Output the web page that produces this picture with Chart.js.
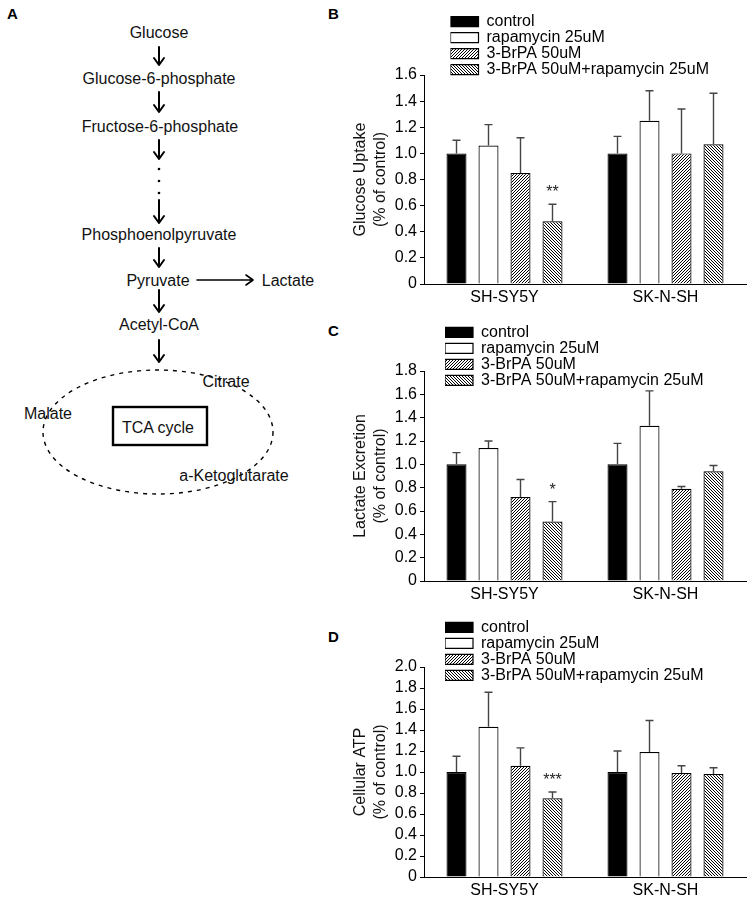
<!DOCTYPE html>
<html>
<head>
<meta charset="utf-8">
<script src="https://cdn.jsdelivr.net/npm/chart.js@4.4.1/dist/chart.umd.min.js"></script>
<style>
html,body{margin:0;padding:0;background:#fff;}
body{width:753px;height:906px;position:relative;overflow:hidden;font-family:"Liberation Sans",Arial,sans-serif;}
#diagram{position:absolute;left:0;top:0;}
.cv{position:absolute;left:340px;}
</style>
</head>
<body>
<svg id="diagram" width="753" height="906" xmlns="http://www.w3.org/2000/svg" font-family="Liberation Sans, Arial, sans-serif" font-size="16">
  <g font-weight="bold" font-size="15">
    <text x="7" y="19">A</text>
    <text x="328" y="19">B</text>
    <text x="328" y="336">C</text>
    <text x="328" y="642">D</text>
  </g>
  <g text-anchor="middle" fill="#111">
    <text x="159" y="38">Glucose</text>
    <text x="159" y="84">Glucose-6-phosphate</text>
    <text x="160" y="132">Fructose-6-phosphate</text>
    <text x="159" y="240">Phosphoenolpyruvate</text>
    <text x="158" y="286">Pyruvate</text>
    <text x="288" y="286">Lactate</text>
    <text x="159" y="330">Acetyl-CoA</text>
  </g>
  <g stroke="#000" stroke-width="2" fill="none" stroke-linecap="round" stroke-linejoin="round">
    <path d="M159,47 V65 M154,58 L159,65 L164,58"/>
    <path d="M159,92 V112 M154,105 L159,112 L164,105"/>
    <path d="M159,140 V159 M154,152 L159,159 L164,152"/>
    <path d="M159,200 V223 M154,216 L159,223 L164,216"/>
    <path d="M159,248 V267 M154,260 L159,267 L164,260"/>
    <path d="M159,290 V312 M154,305 L159,312 L164,305"/>
    <path d="M159,340 V362 M154,355 L159,362 L164,355"/>
    <path d="M197,280 H253 M246,275 L253,280 L246,285" stroke-width="1.6"/>
  </g>
  <g fill="#000">
    <circle cx="159" cy="169" r="1.3"/>
    <circle cx="159" cy="181" r="1.3"/>
    <circle cx="159" cy="193" r="1.3"/>
  </g>
  <ellipse cx="158" cy="432" rx="115" ry="62" fill="none" stroke="#000" stroke-width="1.4" stroke-dasharray="4 5"/>
  <rect x="113" y="407" width="94" height="38" fill="none" stroke="#000" stroke-width="2.4"/>
  <g text-anchor="middle" fill="#111">
    <text x="158" y="433">TCA cycle</text>
    <text x="226" y="387">Citrate</text>
    <text x="48" y="419">Malate</text>
    <text x="234" y="481">a-Ketoglutarate</text>
  </g>
</svg>
<canvas id="chartB" class="cv" width="413" height="305" style="top:0px;width:413px;height:305px"></canvas>
<canvas id="chartC" class="cv" width="413" height="298" style="top:305px;width:413px;height:298px"></canvas>
<canvas id="chartD" class="cv" width="413" height="303" style="top:603px;width:413px;height:303px"></canvas>
<script>
// ---------- data ----------
const categories = ['SH-SY5Y', 'SK-N-SH'];
const seriesNames = ['control', 'rapamycin 25uM', '3-BrPA 50uM', '3-BrPA 50uM+rapamycin 25uM'];

// B: glucose uptake
const glucoseControl = [1.00, 1.00];
const glucoseRapa = [1.06, 1.25];
const glucoseBrPA = [0.85, 1.00];
const glucoseCombo = [0.48, 1.07];
const glucoseControlSD = [0.10, 0.13];
const glucoseRapaSD = [0.16, 0.23];
const glucoseBrPASD = [0.27, 0.34];
const glucoseComboSD = [0.13, 0.39];
const glucoseComboSig = ['**', ''];
const glucoseTicks = ['0', '0.2', '0.4', '0.6', '0.8', '1.0', '1.2', '1.4', '1.6'];

// C: lactate excretion
const lactateControl = [1.00, 1.00];
const lactateRapa = [1.14, 1.33];
const lactateBrPA = [0.72, 0.79];
const lactateCombo = [0.51, 0.94];
const lactateControlSD = [0.10, 0.18];
const lactateRapaSD = [0.06, 0.30];
const lactateBrPASD = [0.15, 0.02];
const lactateComboSD = [0.17, 0.05];
const lactateComboSig = ['*', ''];
const lactateTicks = ['0', '0.2', '0.4', '0.6', '0.8', '1.0', '1.2', '1.4', '1.6', '1.8'];

// D: cellular ATP
const atpControl = [1.00, 1.00];
const atpRapa = [1.43, 1.19];
const atpBrPA = [1.06, 0.99];
const atpCombo = [0.75, 0.98];
const atpControlSD = [0.15, 0.20];
const atpRapaSD = [0.33, 0.30];
const atpBrPASD = [0.17, 0.07];
const atpComboSD = [0.06, 0.06];
const atpComboSig = ['***', ''];
const atpTicks = ['0', '0.2', '0.4', '0.6', '0.8', '1.0', '1.2', '1.4', '1.6', '1.8', '2.0'];

// ---------- styling ----------
const FONT = 'Liberation Sans, Arial, sans-serif';
Chart.defaults.font.family = FONT;
Chart.defaults.font.size = 16;
Chart.defaults.color = '#000';

function hatch(dir) {
  const n = 3;
  const c = document.createElement('canvas');
  c.width = c.height = n;
  const x = c.getContext('2d');
  x.fillStyle = '#fff';
  x.fillRect(0, 0, n, n);
  x.strokeStyle = '#000';
  x.lineWidth = 1;
  x.beginPath();
  if (dir > 0) {
    x.moveTo(0, n); x.lineTo(n, 0);
    x.moveTo(-1, 1); x.lineTo(1, -1);
    x.moveTo(n - 1, n + 1); x.lineTo(n + 1, n - 1);
  } else {
    x.moveTo(0, 0); x.lineTo(n, n);
    x.moveTo(-1, n - 1); x.lineTo(1, n + 1);
    x.moveTo(n - 1, -1); x.lineTo(n + 1, 1);
  }
  x.stroke();
  return x.createPattern(c, 'repeat');
}
const fills = ['#000', '#fff', hatch(1), hatch(-1)];

const errPlugin = {
  id: 'errbars',
  afterDatasetsDraw(chart) {
    const ctx = chart.ctx;
    const ys = chart.scales.y;
    ctx.save();
    chart.data.datasets.forEach((ds, i) => {
      const meta = chart.getDatasetMeta(i);
      meta.data.forEach((bar, j) => {
        const top = ys.getPixelForValue(ds.data[j] + ds.sd[j]);
        ctx.strokeStyle = '#444';
        ctx.lineWidth = 1.4;
        ctx.beginPath();
        ctx.moveTo(bar.x, bar.y);
        ctx.lineTo(bar.x, top);
        ctx.moveTo(bar.x - 4, top);
        ctx.lineTo(bar.x + 4, top);
        ctx.stroke();
        const s = ds.sig && ds.sig[j];
        if (s) {
          ctx.fillStyle = '#222';
          ctx.font = '16px ' + FONT;
          ctx.textAlign = 'center';
          ctx.textBaseline = 'alphabetic';
          ctx.fillText(s, bar.x, top - 7);
        }
      });
    });
    ctx.restore();
  }
};

const legendPlace = {
  id: 'legendPlace',
  afterLayout(chart, args, opts) {
    const lg = chart.legend;
    if (!lg) return;
    lg.left = opts.x; lg.top = opts.y;
    lg.right = opts.x + 300; lg.bottom = opts.y + 80;
  }
};

function makeChart(id, means, sds, sigs, ticks, title, padTop, xHeight, legX, legY) {
  const datasets = seriesNames.map((name, i) => ({
    label: name,
    data: means[i],
    sd: sds[i],
    sig: sigs[i],
    backgroundColor: fills[i],
    borderColor: '#000',
    borderWidth: 1.2,
    categoryPercentage: 0.795,
    barPercentage: 0.625
  }));
  const tickVals = ticks.map(Number);
  return new Chart(document.getElementById(id), {
    type: 'bar',
    data: { labels: categories, datasets },
    plugins: [legendPlace, errPlugin],
    options: {
      responsive: false,
      animation: false,
      events: [],
      layout: { padding: { top: padTop, right: 7, left: 0, bottom: 0 } },
      plugins: {
        tooltip: { enabled: false },
        legend: {
          position: 'chartArea',
          align: 'start',
          labels: {
            boxWidth: 28,
            boxHeight: 10,
            padding: 0,
            color: '#000',
            font: { size: 16, family: FONT }
          }
        },
        legendPlace: { x: legX, y: legY }
      },
      scales: {
        x: {
          grid: { drawOnChartArea: false, drawTicks: false },
          border: { display: true, color: '#000', width: 1 },
          ticks: { padding: 4, color: '#000', font: { size: 16 } },
          afterFit(s) { s.height = xHeight; }
        },
        y: {
          min: tickVals[0],
          max: tickVals[tickVals.length - 1],
          grid: { drawOnChartArea: false, drawTicks: true, tickLength: 4, color: '#000' },
          border: { display: true, color: '#000', width: 1 },
          ticks: {
            padding: 3, color: '#000', font: { size: 16 },
            autoSkip: false,
            callback: (v, i) => ticks[i]
          },
          afterBuildTicks(s) { s.ticks = tickVals.map(v => ({ value: v })); },
          title: {
            display: true,
            text: title,
            color: '#111',
            font: { size: 16, lineHeight: 1.25 },
            padding: { top: 11, bottom: 0 }
          },
          afterFit(s) { s.width = 84; }
        }
      }
    }
  });
}

makeChart('chartB',
  [glucoseControl, glucoseRapa, glucoseBrPA, glucoseCombo],
  [glucoseControlSD, glucoseRapaSD, glucoseBrPASD, glucoseComboSD],
  [null, null, null, glucoseComboSig],
  glucoseTicks, ['Glucose Uptake', '(% of control)'], 75, 21, 110.5, 13.7);

makeChart('chartC',
  [lactateControl, lactateRapa, lactateBrPA, lactateCombo],
  [lactateControlSD, lactateRapaSD, lactateBrPASD, lactateComboSD],
  [null, null, null, lactateComboSig],
  lactateTicks, ['Lactate Excretion', '(% of control)'], 66, 22, 105, 19.3);

makeChart('chartD',
  [atpControl, atpRapa, atpBrPA, atpCombo],
  [atpControlSD, atpRapaSD, atpBrPASD, atpComboSD],
  [null, null, null, atpComboSig],
  atpTicks, ['Cellular ATP', '(% of control)'], 64, 29, 105, 16.3);
</script>
</body>
</html>
